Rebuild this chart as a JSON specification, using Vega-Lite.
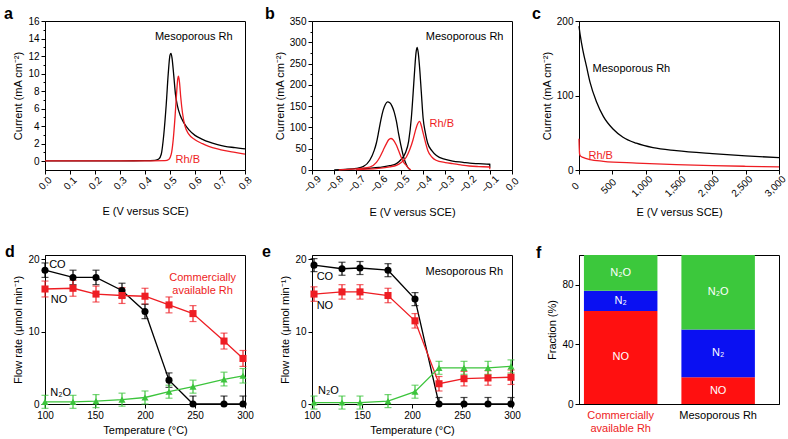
{
"$schema": "https://vega.github.io/schema/vega-lite/v6.json",
"padding": {"left": 3, "top": 5, "right": 0, "bottom": 0},
"background": "white",
"config": {
 "font": "Liberation Sans",
 "view": {"stroke": "#000", "strokeWidth": 1},
 "axis": {"grid": false, "domainColor": "#000", "tickColor": "#000", "labelColor": "#000", "titleColor": "#000", "labelFontSize": 10, "titleFontSize": 11, "titleFontWeight": "normal", "tickSize": 4, "labelPadding": 2, "titlePadding": 4, "labelFlush": false, "labelOverlap": false},
 "title": {"fontSize": 16, "fontWeight": "bold", "anchor": "start", "frame": "group", "color": "#000", "baseline": "alphabetic", "offset": -6},
 "text": {"font": "Liberation Sans", "fontSize": 11}
},
"resolve": {"scale": {"color": "independent", "shape": "independent"}},
"columns": 3,
"spacing": {"row": 85, "column": 67},
"bounds": "flush",
"concat": [
{
 "width": 200, "height": 149,
 "title": {"text": "a", "dx": -41},
 "resolve": {"axis": {"y": "independent"}},
 "encoding": {
  "x": {"field": "x", "type": "quantitative", "scale": {"domain": [0, 0.8], "nice": false, "zero": false}, "axis": {"values": [0,0.1,0.2,0.3,0.4,0.5,0.6,0.7,0.8], "format": ".1f", "labelAngle": -45, "labelAlign": "center", "labelBaseline": "middle", "labelPadding": 9, "titlePadding": 14, "title": "E (V versus SCE)"}},
  "y": {"field": "y", "type": "quantitative", "scale": {"domain": [-1, 16], "nice": false, "zero": false}, "axis": {"values": [0,2,4,6,8,10,12,14,16], "title": "Current (mA cm⁻²)", "orient": "left"}},
  "color": {"field": "s", "type": "nominal", "scale": {"domain": ["M","R"], "range": ["#000000","#ee1d23"]}, "legend": null}
 },
 "layer": [
  {"data": {"values": [
   {"s":"M","x":0,"y":0.05},{"s":"M","x":0.1,"y":0.05},{"s":"M","x":0.2,"y":0.05},{"s":"M","x":0.3,"y":0.05},{"s":"M","x":0.4,"y":0.06},{"s":"M","x":0.44,"y":0.1},{"s":"M","x":0.455,"y":0.25},{"s":"M","x":0.465,"y":0.8},{"s":"M","x":0.475,"y":3.0},{"s":"M","x":0.485,"y":6.5},{"s":"M","x":0.493,"y":10.0},{"s":"M","x":0.5,"y":12.1},{"s":"M","x":0.504,"y":12.3},{"s":"M","x":0.508,"y":11.8},{"s":"M","x":0.515,"y":9.8},{"s":"M","x":0.522,"y":7.6},{"s":"M","x":0.53,"y":6.3},{"s":"M","x":0.54,"y":5.3},{"s":"M","x":0.555,"y":4.4},{"s":"M","x":0.575,"y":3.6},{"s":"M","x":0.6,"y":2.95},{"s":"M","x":0.63,"y":2.5},{"s":"M","x":0.655,"y":2.2},{"s":"M","x":0.69,"y":1.9},{"s":"M","x":0.72,"y":1.7},{"s":"M","x":0.76,"y":1.55},{"s":"M","x":0.8,"y":1.4},
   {"s":"R","x":0,"y":0.05},{"s":"R","x":0.1,"y":0.05},{"s":"R","x":0.2,"y":0.05},{"s":"R","x":0.3,"y":0.05},{"s":"R","x":0.4,"y":0.05},{"s":"R","x":0.48,"y":0.07},{"s":"R","x":0.495,"y":0.2},{"s":"R","x":0.505,"y":0.8},{"s":"R","x":0.513,"y":2.5},{"s":"R","x":0.52,"y":5.0},{"s":"R","x":0.526,"y":7.6},{"s":"R","x":0.531,"y":9.4},{"s":"R","x":0.534,"y":9.7},{"s":"R","x":0.538,"y":9.0},{"s":"R","x":0.543,"y":7.3},{"s":"R","x":0.55,"y":5.5},{"s":"R","x":0.56,"y":4.0},{"s":"R","x":0.575,"y":3.1},{"s":"R","x":0.6,"y":2.45},{"s":"R","x":0.63,"y":2.0},{"s":"R","x":0.655,"y":1.7},{"s":"R","x":0.69,"y":1.4},{"s":"R","x":0.72,"y":1.2},{"s":"R","x":0.76,"y":1.0},{"s":"R","x":0.8,"y":0.8}
  ]},
   "mark": {"type": "line", "interpolate": "monotone", "strokeWidth": 1.3}},
  {"data": {"values": [
   {"s":"M","x":0.595,"y":14.2,"label":"Mesoporous Rh"},
   {"s":"R","x":0.571,"y":0.1,"label":"Rh/B"}
  ]},
   "mark": {"type": "text", "fontSize": 11},
   "encoding": {
    "y": {"field": "y", "type": "quantitative", "scale": {"domain": [-1, 16], "nice": false, "zero": false}, "axis": {"values": [1,3,5,7,9,11,13,15], "labels": false, "title": null, "domain": false, "tickSize": 2, "orient": "left"}},
    "text": {"field": "label"}
   }}
 ]
},
{
 "width": 200, "height": 149,
 "title": {"text": "b", "dx": -47},
 "resolve": {"axis": {"y": "independent"}},
 "encoding": {
  "x": {"field": "x", "type": "quantitative", "scale": {"domain": [-0.9, 0], "nice": false, "zero": false}, "axis": {"values": [-0.9,-0.8,-0.7,-0.6,-0.5,-0.4,-0.3,-0.2,-0.1,0], "format": ".1f", "labelAngle": -45, "labelAlign": "center", "labelBaseline": "middle", "labelPadding": 10, "titlePadding": 12, "title": "E (V versus SCE)"}},
  "y": {"field": "y", "type": "quantitative", "scale": {"domain": [0, 350], "nice": false, "zero": false}, "axis": {"values": [0,50,100,150,200,250,300,350], "title": "Current (mA cm⁻²)", "orient": "left"}},
  "color": {"field": "s", "type": "nominal", "scale": {"domain": ["M","R"], "range": ["#000000","#ee1d23"]}, "legend": null}
 },
 "layer": [
  {"data": {"values": [
   {"s":"M","tr":"M1","x":-0.8,"y":0.5},{"s":"M","tr":"M1","x":-0.75,"y":1.5},{"s":"M","tr":"M1","x":-0.7,"y":4},{"s":"M","tr":"M1","x":-0.67,"y":8},{"s":"M","tr":"M1","x":-0.64,"y":23},{"s":"M","tr":"M1","x":-0.62,"y":46},{"s":"M","tr":"M1","x":-0.61,"y":64},{"s":"M","tr":"M1","x":-0.6,"y":90},{"s":"M","tr":"M1","x":-0.59,"y":118},{"s":"M","tr":"M1","x":-0.58,"y":140},{"s":"M","tr":"M1","x":-0.57,"y":154},{"s":"M","tr":"M1","x":-0.56,"y":160},{"s":"M","tr":"M1","x":-0.55,"y":158},{"s":"M","tr":"M1","x":-0.54,"y":150},{"s":"M","tr":"M1","x":-0.53,"y":136},{"s":"M","tr":"M1","x":-0.52,"y":114},{"s":"M","tr":"M1","x":-0.51,"y":84},{"s":"M","tr":"M1","x":-0.5,"y":58},{"s":"M","tr":"M1","x":-0.49,"y":35},{"s":"M","tr":"M1","x":-0.48,"y":18},{"s":"M","tr":"M1","x":-0.47,"y":7},{"s":"M","tr":"M1","x":-0.46,"y":1},
   {"s":"M","tr":"M2","x":-0.7,"y":2},{"s":"M","tr":"M2","x":-0.65,"y":4},{"s":"M","tr":"M2","x":-0.6,"y":6},{"s":"M","tr":"M2","x":-0.55,"y":10},{"s":"M","tr":"M2","x":-0.52,"y":15},{"s":"M","tr":"M2","x":-0.5,"y":24},{"s":"M","tr":"M2","x":-0.48,"y":40},{"s":"M","tr":"M2","x":-0.465,"y":68},{"s":"M","tr":"M2","x":-0.453,"y":122},{"s":"M","tr":"M2","x":-0.445,"y":180},{"s":"M","tr":"M2","x":-0.438,"y":235},{"s":"M","tr":"M2","x":-0.432,"y":275},{"s":"M","tr":"M2","x":-0.427,"y":288},{"s":"M","tr":"M2","x":-0.422,"y":276},{"s":"M","tr":"M2","x":-0.416,"y":242},{"s":"M","tr":"M2","x":-0.408,"y":182},{"s":"M","tr":"M2","x":-0.4,"y":122},{"s":"M","tr":"M2","x":-0.39,"y":88},{"s":"M","tr":"M2","x":-0.38,"y":64},{"s":"M","tr":"M2","x":-0.36,"y":45},{"s":"M","tr":"M2","x":-0.34,"y":34},{"s":"M","tr":"M2","x":-0.3,"y":25},{"s":"M","tr":"M2","x":-0.267,"y":21},{"s":"M","tr":"M2","x":-0.22,"y":18},{"s":"M","tr":"M2","x":-0.19,"y":16},{"s":"M","tr":"M2","x":-0.15,"y":14.8},{"s":"M","tr":"M2","x":-0.1,"y":13.5},{"s":"M","tr":"M2","x":-0.0999,"y":5},
   {"s":"R","tr":"R1","x":-0.78,"y":0.5},{"s":"R","tr":"R1","x":-0.72,"y":2},{"s":"R","tr":"R1","x":-0.68,"y":4},{"s":"R","tr":"R1","x":-0.64,"y":7},{"s":"R","tr":"R1","x":-0.61,"y":18},{"s":"R","tr":"R1","x":-0.595,"y":30},{"s":"R","tr":"R1","x":-0.58,"y":46},{"s":"R","tr":"R1","x":-0.565,"y":62},{"s":"R","tr":"R1","x":-0.555,"y":71},{"s":"R","tr":"R1","x":-0.545,"y":74},{"s":"R","tr":"R1","x":-0.535,"y":71},{"s":"R","tr":"R1","x":-0.52,"y":58},{"s":"R","tr":"R1","x":-0.51,"y":45},{"s":"R","tr":"R1","x":-0.5,"y":32},{"s":"R","tr":"R1","x":-0.49,"y":20},{"s":"R","tr":"R1","x":-0.476,"y":11},{"s":"R","tr":"R1","x":-0.465,"y":4},{"s":"R","tr":"R1","x":-0.455,"y":0.5},
   {"s":"R","tr":"R2","x":-0.7,"y":1},{"s":"R","tr":"R2","x":-0.65,"y":2},{"s":"R","tr":"R2","x":-0.6,"y":4},{"s":"R","tr":"R2","x":-0.55,"y":7.5},{"s":"R","tr":"R2","x":-0.52,"y":11},{"s":"R","tr":"R2","x":-0.5,"y":17},{"s":"R","tr":"R2","x":-0.476,"y":30},{"s":"R","tr":"R2","x":-0.46,"y":48},{"s":"R","tr":"R2","x":-0.446,"y":70},{"s":"R","tr":"R2","x":-0.435,"y":92},{"s":"R","tr":"R2","x":-0.425,"y":108},{"s":"R","tr":"R2","x":-0.416,"y":114},{"s":"R","tr":"R2","x":-0.408,"y":104},{"s":"R","tr":"R2","x":-0.401,"y":89},{"s":"R","tr":"R2","x":-0.39,"y":66},{"s":"R","tr":"R2","x":-0.379,"y":46},{"s":"R","tr":"R2","x":-0.36,"y":30},{"s":"R","tr":"R2","x":-0.342,"y":23},{"s":"R","tr":"R2","x":-0.3,"y":17.5},{"s":"R","tr":"R2","x":-0.267,"y":15},{"s":"R","tr":"R2","x":-0.23,"y":12},{"s":"R","tr":"R2","x":-0.192,"y":9.4},{"s":"R","tr":"R2","x":-0.15,"y":8},{"s":"R","tr":"R2","x":-0.1,"y":7},{"s":"R","tr":"R2","x":-0.0999,"y":2}
  ]},
   "mark": {"type": "line", "interpolate": "monotone", "strokeWidth": 1.3},
   "encoding": {"detail": {"field": "tr"}}},
  {"data": {"values": [
   {"s":"M","x":-0.213,"y":312,"label":"Mesoporous Rh"},
   {"s":"R","x":-0.316,"y":109,"label":"Rh/B"}
  ]},
   "mark": {"type": "text", "fontSize": 11},
   "encoding": {
    "y": {"field": "y", "type": "quantitative", "scale": {"domain": [0, 350], "nice": false, "zero": false}, "axis": {"values": [25,75,125,175,225,275,325], "labels": false, "title": null, "domain": false, "tickSize": 2, "orient": "left"}},
    "text": {"field": "label"}
   }}
 ]
},
{
 "width": 200, "height": 149,
 "title": {"text": "c", "dx": -47},
 "encoding": {
  "x": {"field": "x", "type": "quantitative", "scale": {"domain": [0, 3000], "nice": false, "zero": false}, "axis": {"values": [0,500,1000,1500,2000,2500,3000], "format": ",d", "labelAngle": -45, "labelAlign": "center", "labelBaseline": "middle", "labelPadding": 12, "labelOffset": -4, "titlePadding": 8, "title": "E (V versus SCE)"}},
  "y": {"field": "y", "type": "quantitative", "scale": {"domain": [0, 200], "nice": false, "zero": false}, "axis": {"values": [0,100,200], "title": "Current (mA cm⁻²)"}},
  "color": {"field": "s", "type": "nominal", "scale": {"domain": ["M","R"], "range": ["#000000","#ee1d23"]}, "legend": null}
 },
 "layer": [
  {"data": {"values": [
   {"s":"M","x":0,"y":193},{"s":"M","x":20,"y":180},{"s":"M","x":60,"y":160},{"s":"M","x":115,"y":138},{"s":"M","x":165,"y":118},{"s":"M","x":265,"y":91},{"s":"M","x":365,"y":72},{"s":"M","x":510,"y":55},{"s":"M","x":660,"y":44},{"s":"M","x":860,"y":36},{"s":"M","x":1110,"y":30},{"s":"M","x":1460,"y":26},{"s":"M","x":2000,"y":22},{"s":"M","x":2500,"y":19},{"s":"M","x":3000,"y":16.5},
   {"s":"R","x":0,"y":42},{"s":"R","x":8,"y":22},{"s":"R","x":20,"y":19},{"s":"R","x":60,"y":17},{"s":"R","x":165,"y":14},{"s":"R","x":365,"y":11.7},{"s":"R","x":860,"y":9.3},{"s":"R","x":1460,"y":7.2},{"s":"R","x":2000,"y":5.8},{"s":"R","x":2500,"y":5},{"s":"R","x":3000,"y":4.2}
  ]},
   "mark": {"type": "line", "interpolate": "monotone", "strokeWidth": 1.3}},
  {"data": {"values": [
   {"s":"M","x":786,"y":135.5,"label":"Mesoporous Rh"},
   {"s":"R","x":325,"y":18.5,"label":"Rh/B"}
  ]},
   "mark": {"type": "text", "fontSize": 11},
   "encoding": {"text": {"field": "label"}}}
 ]
},
{
 "width": 200, "height": 149,
 "title": {"text": "d", "dx": -40},
 "data": {"values": [
  {"sp":"CO","t":100,"v":18.5,"lo":17.5,"hi":19.5},{"sp":"CO","t":128,"v":17.5,"lo":16.5,"hi":18.5},{"sp":"CO","t":151,"v":17.5,"lo":16.5,"hi":18.5},{"sp":"CO","t":177,"v":15.7,"lo":14.7,"hi":16.7},{"sp":"CO","t":200,"v":12.8,"lo":11.8,"hi":13.8},{"sp":"CO","t":224,"v":3.3,"lo":2.3,"hi":4.3},{"sp":"CO","t":248,"v":0,"lo":0,"hi":1.1},{"sp":"CO","t":279,"v":0,"lo":0,"hi":1.1},{"sp":"CO","t":298,"v":0,"lo":0,"hi":1.1},
  {"sp":"NO","t":100,"v":15.9,"lo":14.8,"hi":17.0},{"sp":"NO","t":128,"v":16.0,"lo":14.9,"hi":17.1},{"sp":"NO","t":151,"v":15.2,"lo":14.1,"hi":16.3},{"sp":"NO","t":177,"v":15.0,"lo":13.9,"hi":16.1},{"sp":"NO","t":200,"v":14.9,"lo":13.8,"hi":16.0},{"sp":"NO","t":224,"v":13.7,"lo":12.6,"hi":14.8},{"sp":"NO","t":248,"v":12.5,"lo":11.4,"hi":13.6},{"sp":"NO","t":279,"v":8.7,"lo":7.6,"hi":9.8},{"sp":"NO","t":298,"v":6.3,"lo":5.2,"hi":7.4},
  {"sp":"N2O","t":100,"v":0.3,"lo":-0.6,"hi":1.2},{"sp":"N2O","t":128,"v":0.3,"lo":-0.6,"hi":1.2},{"sp":"N2O","t":151,"v":0.4,"lo":-0.5,"hi":1.3},{"sp":"N2O","t":177,"v":0.6,"lo":-0.3,"hi":1.5},{"sp":"N2O","t":200,"v":0.9,"lo":0.0,"hi":1.8},{"sp":"N2O","t":224,"v":1.7,"lo":0.8,"hi":2.6},{"sp":"N2O","t":248,"v":2.4,"lo":1.5,"hi":3.3},{"sp":"N2O","t":279,"v":3.4,"lo":2.5,"hi":4.4},{"sp":"N2O","t":298,"v":3.9,"lo":2.9,"hi":4.9}
 ]},
 "encoding": {
  "x": {"field": "t", "type": "quantitative", "scale": {"domain": [100, 300], "nice": false, "zero": false}, "axis": {"values": [100,150,200,250,300], "title": "Temperature (°C)"}},
  "color": {"field": "sp", "type": "nominal", "scale": {"domain": ["CO","NO","N2O"], "range": ["#000000","#ee1d23","#3cc43c"]}, "legend": null}
 },
 "layer": [
  {"mark": {"type": "line", "strokeWidth": 1.3},
   "encoding": {"y": {"field": "v", "type": "quantitative", "scale": {"domain": [0, 20.6], "nice": false, "zero": false}, "axis": {"values": [0,5,10,15,20], "title": "Flow rate (μmol min⁻¹)"}}}},
  {"mark": {"type": "errorbar", "ticks": {"size": 7}, "thickness": 1.2},
   "encoding": {"y": {"field": "lo", "type": "quantitative", "scale": {"domain": [0, 20.6], "nice": false, "zero": false}, "axis": {"values": [0,5,10,15,20], "title": "Flow rate (μmol min⁻¹)"}}, "y2": {"field": "hi"}}},
  {"mark": {"type": "point", "filled": true, "opacity": 1, "size": 50},
   "encoding": {"y": {"field": "v", "type": "quantitative", "scale": {"domain": [0, 20.6], "nice": false, "zero": false}, "axis": {"values": [0,5,10,15,20], "title": "Flow rate (μmol min⁻¹)"}}, "shape": {"field": "sp", "type": "nominal", "scale": {"domain": ["CO","NO","N2O"], "range": ["circle","square","triangle-up"]}, "legend": null}}},
  {"data": {"values": [
   {"t":112.4,"v":19.2,"label":"CO"},
   {"t":114.1,"v":14.4,"label":"NO"},
   {"t":115.7,"v":1.5,"label":"N₂O"}
  ]},
   "mark": {"type": "text", "fontSize": 11},
   "encoding": {"y": {"field": "v", "type": "quantitative"}, "text": {"field": "label"}, "color": {"value": "#000"}}},
  {"data": {"values": [
   {"t":257.6,"v":17.45,"label":"Commercially\navailable Rh"}
  ]},
   "mark": {"type": "text", "fontSize": 11, "lineBreak": "\n"},
   "encoding": {"y": {"field": "v", "type": "quantitative"}, "text": {"field": "label"}, "color": {"value": "#ee1d23"}}}
 ]
},
{
 "width": 200, "height": 149,
 "title": {"text": "e", "dx": -50},
 "data": {"values": [
  {"sp":"CO","t":102,"v":19.2,"lo":18.3,"hi":20.1},{"sp":"CO","t":130,"v":18.7,"lo":17.8,"hi":19.6},{"sp":"CO","t":148,"v":18.8,"lo":17.9,"hi":19.7},{"sp":"CO","t":176,"v":18.5,"lo":17.6,"hi":19.4},{"sp":"CO","t":203,"v":14.5,"lo":13.6,"hi":15.4},{"sp":"CO","t":227,"v":0,"lo":0,"hi":0.9},{"sp":"CO","t":252,"v":0,"lo":0,"hi":0.9},{"sp":"CO","t":276,"v":0,"lo":0,"hi":0.9},{"sp":"CO","t":299,"v":0,"lo":0,"hi":0.9},
  {"sp":"NO","t":102,"v":15.2,"lo":14.2,"hi":16.2},{"sp":"NO","t":130,"v":15.5,"lo":14.5,"hi":16.5},{"sp":"NO","t":148,"v":15.5,"lo":14.5,"hi":16.5},{"sp":"NO","t":176,"v":15.0,"lo":14.0,"hi":16.0},{"sp":"NO","t":203,"v":11.5,"lo":10.5,"hi":12.5},{"sp":"NO","t":227,"v":2.8,"lo":1.8,"hi":3.8},{"sp":"NO","t":252,"v":3.5,"lo":2.5,"hi":4.5},{"sp":"NO","t":276,"v":3.6,"lo":2.6,"hi":4.6},{"sp":"NO","t":299,"v":3.7,"lo":2.7,"hi":4.7},
  {"sp":"N2O","t":102,"v":0.2,"lo":-0.7,"hi":1.1},{"sp":"N2O","t":130,"v":0.2,"lo":-0.7,"hi":1.1},{"sp":"N2O","t":148,"v":0.2,"lo":-0.7,"hi":1.1},{"sp":"N2O","t":176,"v":0.4,"lo":-0.5,"hi":1.3},{"sp":"N2O","t":203,"v":1.7,"lo":0.8,"hi":2.6},{"sp":"N2O","t":227,"v":5.0,"lo":4.1,"hi":5.9},{"sp":"N2O","t":252,"v":5.0,"lo":4.1,"hi":5.9},{"sp":"N2O","t":276,"v":5.0,"lo":4.1,"hi":5.9},{"sp":"N2O","t":299,"v":5.2,"lo":4.3,"hi":6.1}
 ]},
 "encoding": {
  "x": {"field": "t", "type": "quantitative", "scale": {"domain": [100, 300], "nice": false, "zero": false}, "axis": {"values": [100,150,200,250,300], "title": "Temperature (°C)"}},
  "color": {"field": "sp", "type": "nominal", "scale": {"domain": ["CO","NO","N2O"], "range": ["#000000","#ee1d23","#3cc43c"]}, "legend": null}
 },
 "layer": [
  {"mark": {"type": "line", "strokeWidth": 1.3},
   "encoding": {"y": {"field": "v", "type": "quantitative", "scale": {"domain": [0, 20.6], "nice": false, "zero": false}, "axis": {"values": [0,5,10,15,20], "title": "Flow rate (μmol min⁻¹)"}}}},
  {"mark": {"type": "errorbar", "ticks": {"size": 7}, "thickness": 1.2},
   "encoding": {"y": {"field": "lo", "type": "quantitative", "scale": {"domain": [0, 20.6], "nice": false, "zero": false}, "axis": {"values": [0,5,10,15,20], "title": "Flow rate (μmol min⁻¹)"}}, "y2": {"field": "hi"}}},
  {"mark": {"type": "point", "filled": true, "opacity": 1, "size": 50},
   "encoding": {"y": {"field": "v", "type": "quantitative", "scale": {"domain": [0, 20.6], "nice": false, "zero": false}, "axis": {"values": [0,5,10,15,20], "title": "Flow rate (μmol min⁻¹)"}}, "shape": {"field": "sp", "type": "nominal", "scale": {"domain": ["CO","NO","N2O"], "range": ["circle","square","triangle-up"]}, "legend": null}}},
  {"data": {"values": [
   {"t":252.3,"v":18.3,"label":"Mesoporous Rh"},
   {"t":112.9,"v":17.6,"label":"CO"},
   {"t":112.9,"v":13.5,"label":"NO"},
   {"t":116.5,"v":1.8,"label":"N₂O"}
  ]},
   "mark": {"type": "text", "fontSize": 11},
   "encoding": {"y": {"field": "v", "type": "quantitative"}, "text": {"field": "label"}, "color": {"value": "#000"}}}
 ]
},
{
 "width": 200, "height": 149,
 "title": {"text": "f", "dx": -43},
 "data": {"values": [
  {"cat":"Commercially available Rh","comp":"NO","lab":"NO","ord":1,"frac":62.5},
  {"cat":"Commercially available Rh","comp":"N2","lab":"N₂","ord":2,"frac":13.5},
  {"cat":"Commercially available Rh","comp":"N2O","lab":"N₂O","ord":3,"frac":24},
  {"cat":"Mesoporous Rh","comp":"NO","lab":"NO","ord":1,"frac":18},
  {"cat":"Mesoporous Rh","comp":"N2","lab":"N₂","ord":2,"frac":32},
  {"cat":"Mesoporous Rh","comp":"N2O","lab":"N₂O","ord":3,"frac":50}
 ]},
 "encoding": {
  "x": {"field": "cat", "type": "nominal", "sort": null, "scale": {"paddingInner": 0.246, "paddingOuter": 0.149, "align": 0.17}, "axis": {"title": null, "labelAngle": 0, "ticks": false, "labelFontSize": 11, "labelPadding": 5, "labelExpr": "datum.value === 'Commercially available Rh' ? ['Commercially', 'available Rh'] : datum.value", "labelColor": {"condition": {"test": "datum.value === 'Commercially available Rh'", "value": "#ee1d23"}, "value": "#000"}}}
 },
 "layer": [
  {"mark": {"type": "bar"},
   "encoding": {
    "y": {"field": "frac", "type": "quantitative", "stack": "zero", "scale": {"domain": [0, 100], "nice": false}, "axis": {"values": [0,20,40,60,80,100], "title": "Fraction (%)"}},
    "order": {"field": "ord"},
    "color": {"field": "comp", "type": "nominal", "scale": {"domain": ["NO","N2","N2O"], "range": ["#ff1010","#0a10f2","#3cc83c"]}, "legend": null}
   }},
  {"transform": [
    {"stack": "frac", "groupby": ["cat"], "sort": [{"field": "ord"}], "as": ["y0", "y1"]},
    {"calculate": "(datum.y0 + datum.y1) / 2", "as": "mid"}
   ],
   "mark": {"type": "text", "fontSize": 11, "color": "white"},
   "encoding": {"y": {"field": "mid", "type": "quantitative"}, "text": {"field": "lab"}}}
 ]
}
]
}
